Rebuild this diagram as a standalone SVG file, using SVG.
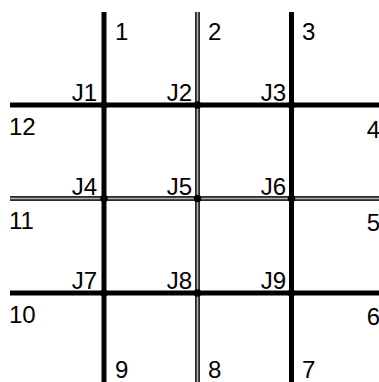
<svg xmlns="http://www.w3.org/2000/svg" width="379" height="382" viewBox="0 0 379 382">
<style>
.road{stroke:#000;stroke-width:5;fill:none}
.dbl{stroke:#2a2a2a;stroke-width:5;fill:none}
.dblc{stroke:#b0b0b0;stroke-width:1.5;fill:none}
.j{fill:#000}
text{font-family:"Liberation Sans",Arial,sans-serif;font-size:24px;fill:#000}
.e{text-anchor:end}
</style>
<rect width="379" height="382" fill="#fff"/>
<g id="connectors">
<line class="road" x1="104" y1="12" x2="104" y2="382"/>
<line class="road" x1="291.5" y1="12" x2="291.5" y2="382"/>
<line class="road" x1="10" y1="105" x2="379" y2="105"/>
<line class="road" x1="10" y1="293" x2="379" y2="293"/>
<line class="dbl" x1="197.5" y1="12" x2="197.5" y2="382"/>
<line class="dbl" x1="10" y1="198.5" x2="379" y2="198.5"/>
<line class="dblc" x1="197.5" y1="12" x2="197.5" y2="382"/>
<line class="dblc" x1="10" y1="198.5" x2="379" y2="198.5"/>
</g>
<g id="road-labels">
<text x="115" y="40">1</text>
<text x="208" y="40">2</text>
<text x="302" y="40">3</text>
<text class="e" x="380" y="138">4</text>
<text class="e" x="380" y="231">5</text>
<text class="e" x="380" y="325">6</text>
<text x="302" y="378">7</text>
<text x="208" y="378">8</text>
<text x="115" y="378">9</text>
<text x="9" y="323">10</text>
<text x="9" y="229">11</text>
<text x="9" y="135">12</text>
</g>
<g id="J1"><circle class="j" cx="104" cy="105" r="3.8"/><text class="e" x="97" y="101">J1</text></g>
<g id="J2"><circle class="j" cx="197.5" cy="105" r="3.8"/><text class="e" x="192" y="101">J2</text></g>
<g id="J3"><circle class="j" cx="291.5" cy="105" r="3.8"/><text class="e" x="286" y="101">J3</text></g>
<g id="J4"><circle class="j" cx="104" cy="198.5" r="3.8"/><text class="e" x="97" y="195">J4</text></g>
<g id="J5"><circle class="j" cx="197.5" cy="198.5" r="3.8"/><text class="e" x="192" y="195">J5</text></g>
<g id="J6"><circle class="j" cx="291.5" cy="198.5" r="3.8"/><text class="e" x="286" y="195">J6</text></g>
<g id="J7"><circle class="j" cx="104" cy="293" r="3.8"/><text class="e" x="97" y="289">J7</text></g>
<g id="J8"><circle class="j" cx="197.5" cy="293" r="3.8"/><text class="e" x="192" y="289">J8</text></g>
<g id="J9"><circle class="j" cx="291.5" cy="293" r="3.8"/><text class="e" x="286" y="289">J9</text></g>
</svg>
